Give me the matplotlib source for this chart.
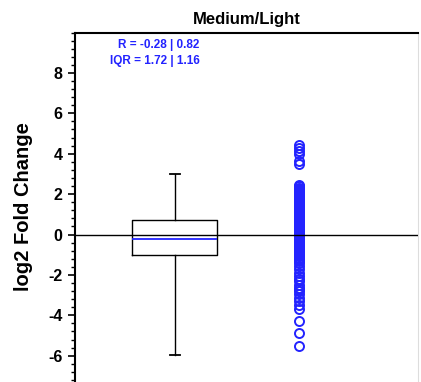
import numpy as np
import matplotlib
matplotlib.use("Agg")
import matplotlib.pyplot as plt
from matplotlib.ticker import MultipleLocator

plt.rcParams['font.family'] = ['Liberation Sans', 'DejaVu Sans']
plt.rcParams['axes.unicode_minus'] = False

# box statistics
box_q1 = -1.02
box_med = -0.21
box_q3 = 0.74
box_whislo = -5.97
box_whishi = 3.0

# individual log2 fold changes
points = [4.45, 4.3, 4.15, 4.0, 3.65, 3.5,
          2.43, 2.38, 2.32, 2.27, 2.21, 2.15, 2.1, 2.04, 1.98, 1.92,
          1.86, 1.8, 1.74, 1.68, 1.62, 1.56, 1.5, 1.44, 1.38, 1.32,
          1.26, 1.2, 1.14, 1.08, 1.02, 0.96, 0.9, 0.84, 0.78, 0.72,
          0.66, 0.6, 0.54, 0.48, 0.42, 0.36, 0.3, 0.24, 0.18, 0.12,
          0.06, 0.0, -0.06, -0.12, -0.18, -0.24, -0.3, -0.36, -0.42,
          -0.48, -0.54, -0.6, -0.66, -0.72, -0.78, -0.84, -0.9, -0.96,
          -1.02, -1.08, -1.14, -1.2, -1.26, -1.32, -1.4,
          -1.57, -1.73, -1.9, -2.06, -2.2, -2.31, -2.48, -2.64, -2.72,
          -2.8, -2.97, -3.13, -3.3, -3.47, -3.71, -4.3, -4.9, -5.5]

stat_lines = ['R = -0.28 | 0.82', 'IQR = 1.72 | 1.16']
title = 'Medium/Light'
ylabel = 'log2 Fold Change'
ytick_vals = [-6, -4, -2, 0, 2, 4, 6, 8]

blue = '#2323ff'

fig = plt.figure(figsize=(4.21, 3.82), dpi=100)
ax = fig.add_axes([75 / 421, -54.5 / 382, 343 / 421, 404 / 382])

stats = [dict(med=box_med, q1=box_q1, q3=box_q3, whislo=box_whislo,
              whishi=box_whishi, fliers=[])]
ax.bxp(stats, positions=[1], widths=0.683, capwidths=0.075,
       boxprops=dict(color='black', linewidth=1.0),
       whiskerprops=dict(color='black', linewidth=1.0),
       capprops=dict(color='black', linewidth=1.3),
       medianprops=dict(color=blue, linewidth=1.3),
       manage_ticks=False)

ax.plot(np.full(len(points), 2.0), points, linestyle='none', marker='o',
        markersize=6.5, markerfacecolor='none', markeredgecolor=blue,
        markeredgewidth=1.4, zorder=3)

ax.axhline(0, color='black', linewidth=1.0, zorder=4)

ax.text(1.2, 9.4, stat_lines[0], color=blue, fontsize=8.5, fontweight='bold',
        ha='right', va='center')
ax.text(1.2, 8.6, stat_lines[1], color=blue, fontsize=8.5, fontweight='bold',
        ha='right', va='center')

ax.set_xlim(0.197, 2.952)
ax.set_ylim(-10, 10)
ax.set_yticks(ytick_vals)
ax.yaxis.set_minor_locator(MultipleLocator(0.4))
ax.tick_params(axis='y', which='major', length=5, width=1.2, labelsize=11.5, pad=4)
ax.tick_params(axis='y', which='minor', length=3, width=1.0)
for lab in ax.get_yticklabels():
    lab.set_fontweight('bold')
ax.set_xticks([])

ax.spines['left'].set_linewidth(1.5)
ax.spines['top'].set_linewidth(1.5)
ax.spines['right'].set_color('#dddddd')
ax.spines['right'].set_linewidth(0.8)

ax.set_title(title, fontsize=12, fontweight='bold', pad=6)
ax.set_ylabel(ylabel, fontsize=14.5, fontweight='bold')
ax.yaxis.set_label_coords(-0.1224, 0.569)

fig.savefig('out.png', dpi=100)
